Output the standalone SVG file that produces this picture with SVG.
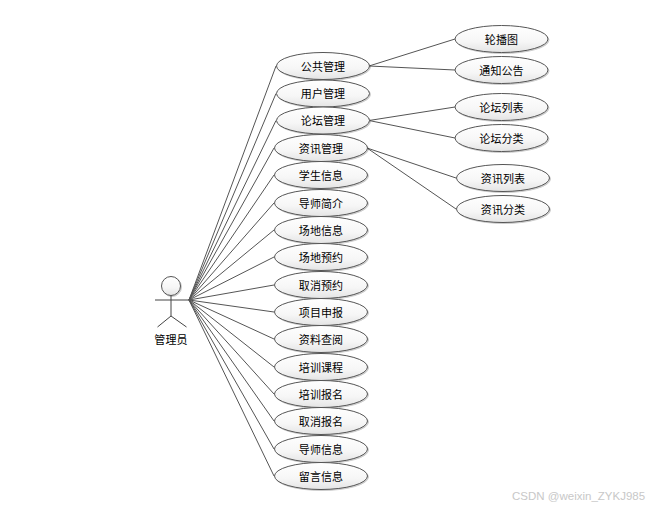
<svg xmlns="http://www.w3.org/2000/svg" width="657" height="509" viewBox="0 0 657 509">
<style>
text{font-family:"Noto Sans CJK SC","Liberation Sans",sans-serif;font-size:11px;fill:#000;text-anchor:middle;letter-spacing:.1px}
.e{fill:url(#g);stroke:#555;stroke-width:1;filter:url(#s)}
.c{stroke:#555;stroke-width:1;fill:none}
.a{stroke:#444;stroke-width:1;fill:none}
text.w{font-family:"Liberation Sans",sans-serif;font-size:11.500px;fill:#c8c8c8;text-anchor:start;letter-spacing:0}
</style>
<defs>
<linearGradient id="g" x1="0" y1="0" x2="0" y2="1"><stop offset="0" stop-color="#fff"/><stop offset=".6" stop-color="#f6f6f6"/><stop offset="1" stop-color="#e4e4e4"/></linearGradient>
<filter id="s" x="-10%" y="-20%" width="120%" height="150%"><feDropShadow dx="1" dy="1" stdDeviation=".6" flood-color="#000" flood-opacity=".2"/></filter>
</defs>
<rect width="657" height="509" fill="#fff"/>
<g id="connectors">
<path class="c" d="M189 300L276 66M189 300L276 93.500M189 300L276 120.500M189 300L274 148M189 300L274 175M189 300L274 203M189 300L274 230M189 300L274 257M189 300L274 285M189 300L274 312M189 300L274 339M189 300L274 367M189 300L274 394M189 300L274 421M189 300L274 449M189 300L274 476"/>
<path class="c" d="M369 66L455 39M369 66L455 70M369 120.500L455 107M369 120.500L455 138M367 148L456 178M367 148L456 209"/>
</g>
<g id="actor">
<circle cx="171" cy="286" r="9.500" class="e"/>
<path class="a" d="M171 295.500V316M155 300H189M171 316L157.500 327M171 316L186.500 327"/>
<text x="171" y="343.500">管理员</text>
</g>
<g id="n1"><ellipse class="e" cx="323" cy="66" rx="46.500" ry="13.500"/><text x="323" y="70.500">公共管理</text></g>
<g id="n2"><ellipse class="e" cx="323" cy="93.500" rx="46.500" ry="13.500"/><text x="323" y="98">用户管理</text></g>
<g id="n3"><ellipse class="e" cx="323" cy="120.500" rx="46.500" ry="13.500"/><text x="323" y="125">论坛管理</text></g>
<g id="n4"><ellipse class="e" cx="321" cy="148" rx="46.500" ry="13.500"/><text x="321" y="152.500">资讯管理</text></g>
<g id="n5"><ellipse class="e" cx="321" cy="175" rx="46.500" ry="13.500"/><text x="321" y="179.500">学生信息</text></g>
<g id="n6"><ellipse class="e" cx="321" cy="203" rx="46.500" ry="13.500"/><text x="321" y="207.500">导师简介</text></g>
<g id="n7"><ellipse class="e" cx="321" cy="230" rx="46.500" ry="13.500"/><text x="321" y="234.500">场地信息</text></g>
<g id="n8"><ellipse class="e" cx="321" cy="257" rx="46.500" ry="13.500"/><text x="321" y="261.500">场地预约</text></g>
<g id="n9"><ellipse class="e" cx="321" cy="285" rx="46.500" ry="13.500"/><text x="321" y="289.500">取消预约</text></g>
<g id="n10"><ellipse class="e" cx="321" cy="312" rx="46.500" ry="13.500"/><text x="321" y="316.500">项目申报</text></g>
<g id="n11"><ellipse class="e" cx="321" cy="339" rx="46.500" ry="13.500"/><text x="321" y="343.500">资料查阅</text></g>
<g id="n12"><ellipse class="e" cx="321" cy="367" rx="46.500" ry="13.500"/><text x="321" y="371.500">培训课程</text></g>
<g id="n13"><ellipse class="e" cx="321" cy="394" rx="46.500" ry="13.500"/><text x="321" y="398.500">培训报名</text></g>
<g id="n14"><ellipse class="e" cx="321" cy="421" rx="46.500" ry="13.500"/><text x="321" y="425.500">取消报名</text></g>
<g id="n15"><ellipse class="e" cx="321" cy="449" rx="46.500" ry="13.500"/><text x="321" y="453.500">导师信息</text></g>
<g id="n16"><ellipse class="e" cx="321" cy="476" rx="46.500" ry="13.500"/><text x="321" y="480.500">留言信息</text></g>
<g id="n17"><ellipse class="e" cx="501.500" cy="39" rx="46.500" ry="13.500"/><text x="501.500" y="43.500">轮播图</text></g>
<g id="n18"><ellipse class="e" cx="501.500" cy="70" rx="46.500" ry="13.500"/><text x="501.500" y="74.500">通知公告</text></g>
<g id="n19"><ellipse class="e" cx="501.500" cy="107" rx="46.500" ry="13.500"/><text x="501.500" y="111.500">论坛列表</text></g>
<g id="n20"><ellipse class="e" cx="501.500" cy="138" rx="46.500" ry="13.500"/><text x="501.500" y="142.500">论坛分类</text></g>
<g id="n21"><ellipse class="e" cx="503" cy="178" rx="46.500" ry="13.500"/><text x="503" y="182.500">资讯列表</text></g>
<g id="n22"><ellipse class="e" cx="503" cy="209" rx="46.500" ry="13.500"/><text x="503" y="213.500">资讯分类</text></g>
<text class="w" x="512" y="500">CSDN @weixin_ZYKJ985</text>
</svg>
